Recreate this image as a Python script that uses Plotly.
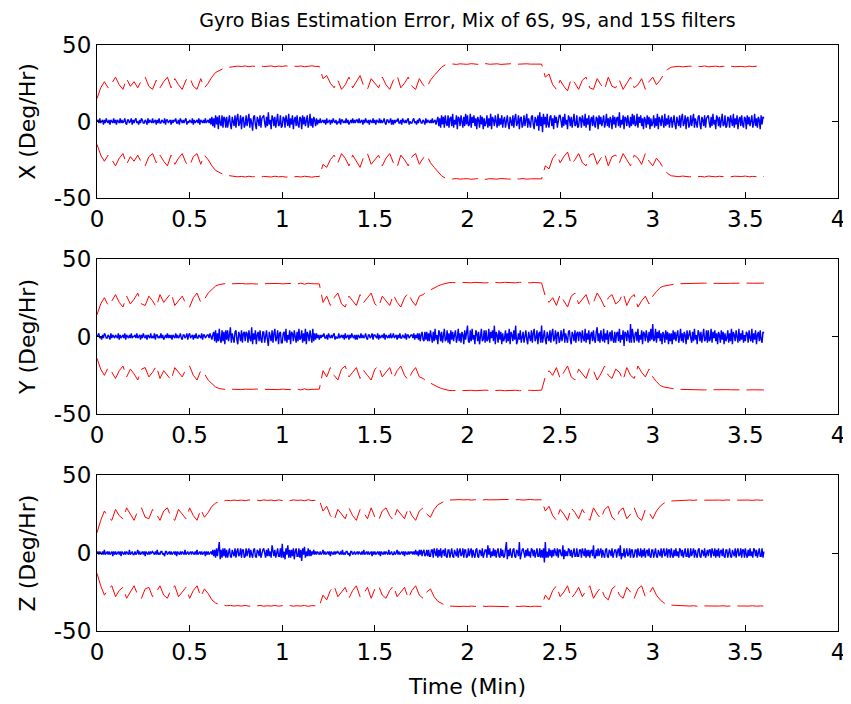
import numpy as np
import plotly.graph_objects as go
from plotly.subplots import make_subplots

# ---------------- data ----------------
# 3-sigma bound magnitude, sampled every 0.02 min (0 .. 3.60)
sig_x = [15, 22, 26, 22, 25, 29, 24, 21, 28, 23,
         26, 22, 27, 29, 23, 21, 27, 22, 26, 29,
         22, 28, 24, 21, 27, 29, 23, 21, 28, 22,
         25, 29, 32, 33.5, 34.5, 35.2, 35.6, 36, 36.2, 35.9,
         36.3, 35.8, 36.2, 36, 36.4, 35.9, 36.1, 36.3, 35.8, 36.2,
         36, 36.4, 35.9, 36.2, 36, 36.3, 35.8, 36.1, 36.4, 36,
         36, 28, 30, 25, 22, 27, 21, 24, 29, 22,
         26, 30, 23, 21, 28, 25, 22, 29, 24, 21,
         27, 30, 22, 25, 29, 23, 21, 28, 24, 22,
         27, 30, 33, 35.5, 37, 37.4, 37.6, 37.3, 37.7, 37.5,
         37.4, 37.8, 37.5, 37.3, 37.6, 37.8, 37.4, 37.5, 37.7, 37.3,
         37.6, 37.5, 37.8, 37.4, 37.6, 37.3, 37.7, 37.5, 37.6, 37.4,
         37.5, 29, 31, 24, 21, 27, 23, 20, 28, 25,
         21, 27, 29, 22, 21, 28, 24, 21, 29, 23,
         22, 27, 21, 25, 29, 22, 24, 28, 21, 26,
         29, 24, 27, 31, 34, 35.5, 35.8, 36.1, 35.7, 36,
         36.2, 35.8, 36.1, 35.9, 36.3, 35.7, 36, 36.2, 35.8, 36.1,
         35.9, 36.2, 35.8, 36.1, 36, 35.7, 36.2, 35.9, 36.1, 35.8,
         36]

sig_y = [14, 21, 25, 20, 23, 27, 22, 19, 26, 21,
         24, 28, 21, 20, 26, 23, 19, 27, 22, 25,
         28, 20, 23, 26, 21, 19, 25, 28, 22, 24,
         28, 30.5, 32.5, 33.5, 34, 34.2, 33.9, 34.1, 34, 34.2,
         33.9, 34.1, 34, 33.8, 34.2, 34, 34.1, 33.9, 34, 34.2,
         33.9, 34.1, 34, 34.3, 33.8, 34.4, 33.7, 34.3, 34, 34.1,
         33.9, 22, 26, 20, 25, 28, 21, 19, 26, 23,
         20, 27, 22, 25, 28, 21, 19, 26, 23, 20,
         27, 22, 19, 25, 28, 23, 20, 26, 27, 29,
         30, 31.5, 32.5, 33.5, 34.3, 34.7, 34.8, 34.6, 34.9, 34.7,
         34.8, 34.6, 34.9, 34.7, 34.8, 34.5, 34.9, 34.7, 34.8, 34.6,
         34.9, 34.7, 34.8, 34.6, 34.9, 34.7, 34.8, 34.6, 34.8, 34.7,
         34.5, 26, 22, 25, 20, 27, 23, 19, 26, 28,
         21, 24, 27, 20, 22, 28, 24, 19, 25, 27,
         21, 23, 28, 20, 25, 27, 19, 23, 26, 21,
         26, 29, 31.5, 32.5, 33, 33.5, 33.8, 34, 34.1, 34.2,
         34.3, 34.2, 34.3, 34.2, 34.4, 34.3, 34.2, 34.3, 34.4, 34.3,
         34.2, 34.3, 34.4, 34.3, 34.2, 34.3, 34.4, 34.3, 34.2, 34.3,
         34.4]

sig_z = [13, 21, 27, 23, 21, 28, 24, 22, 29, 25,
         21, 27, 29, 23, 22, 28, 25, 21, 27, 29,
         23, 21, 28, 25, 22, 29, 24, 21, 28, 23,
         26, 30, 32, 33, 33.5, 33.8, 33.6, 34, 33.7, 34,
         33.6, 34.1, 33.7, 34, 33.6, 34.1, 33.8, 34, 33.6, 34.1,
         33.7, 34, 33.6, 34.1, 33.8, 34, 33.6, 34.2, 33.7, 34,
         34, 27, 30, 24, 21, 28, 25, 22, 29, 24,
         21, 28, 26, 22, 29, 23, 21, 27, 29, 24,
         21, 28, 25, 22, 29, 24, 21, 27, 29, 25,
         23, 28, 31, 32.5, 33.5, 34, 34.2, 34, 34.3, 34.1,
         34.3, 34, 34.2, 34.4, 34, 34.3, 34.1, 34.2, 34, 34.3,
         34.1, 34.4, 34, 34.2, 34.3, 34, 34.2, 34.4, 34.1, 34.3,
         34.2, 27, 30, 24, 21, 28, 25, 21, 29, 26,
         22, 28, 24, 21, 29, 25, 22, 28, 30, 23,
         21, 27, 29, 22, 25, 29, 23, 21, 28, 26,
         22, 27, 30, 32, 33, 33.4, 33.6, 33.8, 34, 33.8,
         34, 33.8, 34.1, 33.9, 34, 33.8, 34.1, 33.9, 34, 33.8,
         34.1, 33.9, 34, 33.8, 34.1, 33.9, 34, 33.8, 34.1, 33.9,
         34]

# gyro bias estimation error (Deg/Hr), sampled every 0.005 min (0 .. 3.60)
err_x = [
    0, 1, -1, 2, -1, 0, 1, -2, 1, -1, 2, 0, -1, 1, -2, 1, 0, -1, 2, -1,
    1, -2, 1, 0, -1, 2, -1, 1, -1, 0, 2, -1, -2, 1, 1, -1, 0, 2, -2, 1,
    -1, 1, 2, -1, 0, -2, 1, -1, 2, 1, -1, -1, 1, 0, -2, 2, -1, 1, 0, -1,
    2, -1, 0, 1, -2, 1, -1, 2, -1, -1, 1, 0, -1, 2, -2, 1, 1, -1, 0, 1,
    -2, 1, -1, 1, 0, 2, -1, -1, 1, -2, 2, 0, -1, 1, -1, 1, 2, -2, 0, -1,
    1, 0, -1, 2, -2, 1, -1, 0, 1, -1, 2, -2, 1, 0, -1, 1, -1, 2, -1, 0,
    1, -1, 2, -2, 3, -3, 2, -4, 4, -2, 3, -5, 4, -1, -3, 4, -4, 3, 2, -4,
    3, -4, 1, 4, -2, -5, 3, 0, -3, 4, -4, 2, 5, -3, -1, 4, -5, 2, 3, -4,
    -2, 4, -3, 1, 5, -4, 2, -1, -6, 3, 4, -2, -5, 3, 1, -3, 4, -4, 2, 3,
    4, -1, -4, 3, -3, 6, -2, 1, -5, 4, 2, -3, 3, -4, 0, 5, -3, -2, 4, -4,
    -3, 3, 2, -4, 4, -1, -3, 5, -4, 2, -2, 4, -5, 1, 3, -3, 4, -2, -4, 3,
    2, -5, 4, -2, 3, -3, 1, 4, -4, -1, 5, -3, 2, -4, 3, 1, -3, 2, -2, 1,
    -1, 2, -1, 0, 1, -1, 1, -2, 2, -1, 0, 1, -2, 1, -1, 2, 0, -1, 1, -2,
    0, -1, 2, -2, 1, 1, -1, 0, -1, 2, -1, 1, -2, 0, 1, -1, 2, -1, 1, -1,
    1, 1, -1, 2, -1, 0, 1, -2, 1, -1, 2, 0, -1, 1, -2, 1, 0, -1, 2, -1,
    1, -2, 1, 0, -1, 2, -1, 1, -1, 0, 2, -1, -2, 1, 1, -1, 0, 2, -2, 1,
    -2, 1, -1, 1, 0, 2, -1, -1, 1, -2, 2, 0, -1, 1, -1, 1, 2, -2, 0, -1,
    -1, 1, 2, -1, 0, -2, 1, -1, 2, 1, -1, -1, 1, 0, -2, 2, -1, 1, 0, -1,
    1, -1, 2, -1, 0, 1, -2, 2, 3, -3, 2, -4, 4, -2, 3, -4, 4, -1, -3, 4,
    -4, 2, 3, -3, 5, -4, 1, -2, 4, -5, 3, 2, -3, 4, -1, -4, 3, -3, 5, -2,
    4, -3, -2, 5, -4, 3, -1, 4, -3, 2, -5, 3, 1, -4, 4, -2, 3, -5, 2, -3,
    -1, 4, -4, 2, -3, 5, -5, 3, 1, -3, 4, -2, -4, 5, -3, 2, -2, 4, -4, 1,
    3, -4, 1, 4, -2, -5, 3, 0, -3, 4, -4, 2, 5, -3, -1, 4, -5, 2, 3, -4,
    -2, 4, -3, 1, 5, -4, 2, -1, -4, 3, 4, -2, -5, 3, 1, -3, 4, -6, 6, -3,
    3, -7, 5, -2, 3, -4, 5, -2, -4, 3, 4, -3, 2, -5, 4, -1, 3, -4, 2, 4,
    4, -1, -4, 3, -3, 5, -2, 1, -5, 4, 2, -3, 3, -4, 0, 5, -3, -2, 4, -4,
    -3, 3, 2, -4, 4, -1, -3, 5, -4, 2, -2, 4, -6, 1, 3, -3, 4, -2, -4, 3,
    2, -5, 4, -2, 3, -3, 1, 4, -4, -1, 5, -3, 2, -4, 3, 1, -5, 4, -2, 3,
    -4, 2, 3, -3, 6, -4, 1, -2, 4, -5, 3, 2, -3, 4, -1, -4, 3, -3, 5, -2,
    4, -3, -2, 5, -4, 3, -1, 4, -3, 2, -5, 3, 1, -4, 4, -2, 3, -5, 2, -3,
    -1, 4, -4, 2, -3, 5, -5, 3, 1, -3, 4, -2, -4, 5, -3, 2, -2, 4, -4, 1,
    3, -4, 1, 4, -2, -5, 3, 0, -3, 4, -4, 2, 5, -3, -1, 4, -5, 2, 3, -4,
    -2, 4, -3, 1, 5, -4, 2, -1, -4, 3, 4, -2, -5, 3, 1, -3, 4, -4, 2, 3,
    4, -1, -4, 3, -3, 5, -2, 1, -5, 4, 2, -3, 3, -4, 0, 5, -3, -2, 4, -4,
    -3, 3, 2, -4, 4, -1, -3, 5, -4, 2, -2, 4, -5, 1, 3, -3, 4, -2, -4, 3,
    2, -5, 4, -2, 3, -3, 1, 4, -4, -1, 5, -3, 2, -4, 3, 1, -5, 4, -2, 3,
    2]

err_y = [
    0, 1, 2, -1, 0, -2, 1, -1, 2, 1, -1, -1, 1, 0, -2, 2, -1, 1, 0, -1,
    1, 0, -1, 2, -2, 1, -1, 0, 1, -1, 2, -2, 1, 0, -1, 1, -1, 2, -1, 0,
    0, 1, -1, 2, -1, 0, 1, -2, 1, -1, 2, 0, -1, 1, -2, 1, 0, -1, 2, -1,
    0, -1, 2, -2, 1, 1, -1, 0, -1, 2, -1, 1, -2, 0, 1, -1, 2, -1, 1, -1,
    1, -2, 1, 0, -1, 2, -1, 1, -1, 0, 2, -1, -2, 1, 1, -1, 0, 2, -2, 1,
    2, -1, 0, 1, -2, 1, -1, 2, -1, -1, 1, 0, -1, 2, -2, 1, 1, -1, 0, 1,
    1, -1, 2, -1, -2, 1, 3, -3, 4, -4, 2, -3, 5, -2, -4, 4, -3, 3, -5, 4,
    -2, 4, -3, 1, 6, -4, 2, -1, -4, 3, 4, -2, -5, 3, 1, -3, 4, -4, 2, 3,
    -3, 3, 2, -4, 4, -1, -3, 6, -5, 2, -2, 4, -5, 1, 3, -3, 4, -2, -4, 3,
    3, -4, 1, 4, -2, -6, 3, 0, -3, 4, -4, 2, 5, -3, -1, 4, -5, 2, 3, -4,
    -4, 2, 3, -3, 5, -4, 1, -2, 4, -5, 3, 2, -3, 4, -1, -4, 3, -3, 5, -2,
    -1, 4, -4, 2, -3, 5, -5, 3, 1, -3, 4, -2, -4, 5, -3, 2, -2, 2, -1, 1,
    -2, 1, -1, 1, 0, 2, -1, -1, 1, -2, 2, 0, -1, 1, -1, 1, 2, -2, 0, -1,
    -1, 2, -1, 0, 1, -1, 1, -2, 2, -1, 0, 1, -2, 1, -1, 2, 0, -1, 1, -2,
    1, -2, 1, 0, -1, 2, -1, 1, -1, 0, 2, -1, -2, 1, 1, -1, 0, 2, -2, 1,
    1, 0, -1, 2, -2, 1, -1, 0, 1, -1, 2, -2, 1, 0, -1, 1, -1, 2, -1, 0,
    2, -1, 0, 1, -2, 1, -1, 2, -1, -1, 1, 0, -1, 2, -2, 1, 1, -1, 0, 1,
    1, -1, 2, -2, 1, -1, 2, -2, 2, -3, 1, 3, -2, -3, 3, -2, 3, -3, 2, -3,
    4, -1, -4, 3, -3, 5, -2, 1, -5, 4, 2, -3, 3, -4, 0, 5, -3, -2, 4, -4,
    2, -5, 4, -2, 3, -3, 1, 4, -4, -1, 5, -3, 2, -4, 3, 1, -5, 4, -2, 3,
    7, -3, -4, 4, -3, 5, -2, 1, -5, 4, 2, -3, 3, -5, 0, 5, -3, -2, 4, -4,
    4, -3, -2, 5, -4, 3, -1, 4, -3, 7, -5, 3, 1, -4, 4, -2, 3, -5, 2, -3,
    -1, 4, -4, 2, -3, 5, -5, 3, 1, -3, 4, -2, 7, -5, -3, 2, -2, 4, -4, 1,
    3, -4, 1, 4, -2, -5, 3, 0, -3, 4, -4, 2, 5, -3, -1, 4, -5, 2, 3, -4,
    7, -4, 1, 4, -2, -5, 3, 0, -3, 4, -4, 2, 5, -3, -1, 4, -5, 2, 3, -4,
    -2, 4, -3, 1, 5, -4, 2, -1, -4, 3, 4, -2, -5, 3, 1, -3, 4, -4, 2, 3,
    -3, 3, 2, -4, 4, -1, -3, 5, -4, 2, -2, 4, -5, 1, 3, -3, 4, -2, -4, 3,
    6, -3, 2, -4, 4, -1, -3, 5, -4, 2, -2, 4, -5, 1, 3, -3, 4, -2, -4, 3,
    -4, 2, 3, -3, 5, -4, 1, -2, 4, -6, 3, 2, -3, 4, -1, -4, 8, -4, 5, -2,
    -4, 2, 3, -3, 5, -4, 1, -2, 4, -5, 3, 2, -3, 4, -1, -4, 3, -3, 5, -2,
    8, -3, -2, 5, -4, 3, -1, 4, -3, 2, -5, 3, 1, -4, 4, -2, 3, -5, 2, -3,
    2, -5, 4, -2, 3, -3, 1, 4, -4, -1, 5, -3, 2, -4, 3, 1, -5, 4, -2, 3,
    4, -1, -4, 3, -3, 5, -2, 1, -5, 4, 2, -3, 3, -4, 0, 5, -3, -2, 4, -4,
    4, -3, -2, 5, -4, 3, -1, 4, -3, 2, -5, 3, 1, -4, 4, -2, 3, -5, 2, -3,
    -1, 4, -4, 2, -3, 5, -5, 3, 1, -3, 4, -2, -4, 5, -3, 2, -2, 4, -4, 1,
    -3, 3, 2, -4, 4, -1, -3, 5, -4, 2, -2, 4, -5, 1, 3, -3, 4, -2, -4, 3,
    2]

err_z = [
    0, 1, -1, 1, 0, -1, 1, -1, 2, -1, 0, 1, -1, 1, -1, 0, 1, -2, 1, -1,
    1, -1, 0, 1, -1, 1, -2, 1, 0, -1, 1, -1, 1, 0, -1, 2, -1, 0, 1, -1,
    -1, 1, -1, 0, 2, -1, 1, -1, 0, 1, -1, 1, -2, 1, 0, -1, 1, -1, 1, 0,
    1, 0, -1, 1, -1, 2, -1, 0, -1, 1, 1, -1, 0, -2, 1, 1, -1, 0, 1, -1,
    1, -1, 0, 1, -1, 1, -2, 1, 0, -1, 1, -1, 1, 0, -1, 2, -1, 0, 1, -1,
    0, 1, -1, 1, 0, -1, 1, -1, 2, -1, 0, 1, -1, 1, -1, 0, 1, -2, 1, -1,
    1, -1, 0, 1, -1, 2, -2, 2, -3, 3, -2, 3, 7, -4, 2, -3, 3, -2, 3, -3,
    2, -3, 1, 3, -2, -3, 2, 0, -2, 3, -3, 1, 3, -2, -1, 3, -3, 2, 2, -3,
    -2, 3, -2, 1, 3, -3, 2, -1, -3, 2, 3, -2, -3, 2, 1, -2, 3, -3, 1, 2,
    3, -1, -3, 2, -2, 3, -2, 1, -3, 5, 2, -2, 2, -3, 0, 3, -2, -2, 3, -3,
    6, -3, 1, -4, 3, -1, 5, -3, 2, -3, 2, -2, 3, -4, 1, 3, -2, -2, 3, -3,
    2, -5, 3, -1, 4, -3, 1, -2, 3, -2, 2, -2, 1, -1, 2, -1, 1, -1, 1, 0,
    -1, 1, -1, 0, 2, -1, 1, -1, 0, 1, -1, 1, -2, 1, 0, -1, 1, -1, 1, 0,
    1, 0, -1, 1, -1, 2, -1, 0, -1, 1, 1, -1, 0, -2, 1, 1, -1, 0, 1, -1,
    0, 1, -1, 1, 0, -1, 1, -1, 2, -1, 0, 1, -1, 1, -1, 0, 1, -2, 1, -1,
    1, -1, 0, 1, -1, 1, -2, 1, 0, -1, 1, -1, 1, 0, -1, 2, -1, 0, 1, -1,
    -1, 1, -1, 0, 2, -1, 1, -1, 0, 1, -1, 1, -2, 1, 0, -1, 1, -1, 1, 0,
    1, -1, 1, -1, 2, -1, 1, -2, 2, -1, 2, -2, 1, 2, -2, -1, 2, -2, 2, -2,
    -2, 2, 2, -3, 3, -1, -2, 3, -3, 2, -2, 3, -3, 1, 2, -2, 3, -2, -3, 2,
    2, -3, 1, 3, -2, -3, 2, 0, -2, 3, -3, 1, 3, -2, -1, 3, -3, 2, 2, -3,
    -2, 3, -2, 1, 3, -3, 2, -1, -3, 2, 3, -2, -3, 2, 1, -2, 3, -3, 1, 2,
    2, -3, 5, -1, 3, -3, 1, -2, 3, -2, 2, -3, 1, 3, -2, -3, 3, -2, 2, -3,
    -2, 3, 7, -4, 2, -2, 3, -1, -3, 2, 3, -2, -3, 2, 1, -2, 7, -4, 1, 2,
    3, -1, -3, 2, -2, 3, -2, 1, -3, 3, 2, -2, 2, -3, 0, 3, -2, -2, 3, -3,
    2, -3, 3, -6, 7, -3, 1, -3, 3, -2, 2, -3, 2, -2, 3, -1, -2, 3, -3, 2,
    2, -1, -2, 5, -4, 2, -2, 1, -2, 3, 2, -2, 2, -3, 0, 3, -2, -2, 3, -2,
    -2, 2, 2, -3, 3, -1, -2, 3, -3, 2, -2, 2, -3, 1, 2, -2, 5, -3, -3, 2,
    -2, 3, -2, 1, 3, -3, 2, -1, -3, 2, 3, -2, -3, 2, 1, -2, 3, -3, 1, 2,
    2, -3, 1, 3, -2, 5, -4, 0, -2, 3, -3, 1, 3, -2, -1, 3, -3, 2, 2, -3,
    -2, 2, 2, -3, 3, -1, -2, 3, -3, 2, -2, 3, -3, 1, 2, -2, 3, -2, -3, 2,
    2, -3, 1, 3, -2, -3, 2, 0, -2, 3, -3, 1, 3, -2, -1, 3, -3, 2, 2, -3,
    3, -1, -3, 2, -2, 3, -2, 1, -3, 3, 2, -2, 2, -3, 0, 3, -2, -2, 3, -3,
    -2, 3, -2, 1, 3, -3, 2, -1, -3, 2, 3, -2, -3, 2, 1, -2, 3, -3, 1, 2,
    -2, 2, 2, -3, 3, -1, -2, 3, -3, 2, -2, 3, -3, 1, 2, -2, 3, -2, -3, 2,
    2, -3, 1, 3, -2, -3, 2, 0, -2, 3, -3, 1, 3, -2, -1, 3, -3, 2, 2, -3,
    3, -1, -3, 2, -2, 3, -2, 1, -3, 3, 2, -2, 2, -3, 0, 3, -2, -2, 3, -3,
    1]

t_bound = np.round(np.arange(len(sig_x)) * 0.02, 3)
t_err = np.round(np.arange(len(err_x)) * 0.005, 3)

axis_names = ["X (Deg/Hr)", "Y (Deg/Hr)", "Z (Deg/Hr)"]
sigmas = [sig_x, sig_y, sig_z]
errors = [err_x, err_y, err_z]
x_ticks = [0, 0.5, 1, 1.5, 2, 2.5, 3, 3.5, 4]
x_ticktext = ["0", "0.5", "1", "1.5", "2", "2.5", "3", "3.5", "4"]
y_ticks = [-50, 0, 50]
y_ticktext = ["-50", "0", "50"]

# ---------------- figure ----------------
FONT = "DejaVu Sans, Liberation Sans, Arial, sans-serif"
TICK_SIZE = 23
LABEL_SIZE = 22
fig = make_subplots(rows=3, cols=1)

for r, (sig, err) in enumerate(zip(sigmas, errors), start=1):
    s = np.array(sig, dtype=float)
    fig.add_trace(go.Scatter(x=t_bound, y=s, mode="lines",
                             line=dict(color="#ff0000", width=1, dash="26px,7px"),
                             showlegend=False, hoverinfo="skip"), row=r, col=1)
    fig.add_trace(go.Scatter(x=t_bound, y=-s, mode="lines",
                             line=dict(color="#ff0000", width=1, dash="26px,7px"),
                             showlegend=False, hoverinfo="skip"), row=r, col=1)
    fig.add_trace(go.Scatter(x=t_err, y=err, mode="lines",
                             line=dict(color="#0000ff", width=1.4),
                             showlegend=False, hoverinfo="skip"), row=r, col=1)

domains = [[0.739, 1.0], [0.370, 0.635], [0.0, 0.266]]
for r in range(1, 4):
    xa = "xaxis" if r == 1 else f"xaxis{r}"
    ya = "yaxis" if r == 1 else f"yaxis{r}"
    fig.layout[xa].update(
        range=[0, 4], tickvals=x_ticks, ticktext=x_ticktext,
        ticks="inside", ticklen=6, tickwidth=1, tickcolor="black",
        showline=True, linecolor="black", linewidth=1, mirror="ticks",
        showgrid=False, zeroline=False,
        tickfont=dict(family=FONT, size=TICK_SIZE, color="black"),
        domain=[0, 1],
    )
    fig.layout[ya].update(
        range=[-50, 50], tickvals=y_ticks, ticktext=y_ticktext,
        ticks="inside", ticklen=6, tickwidth=1, tickcolor="black",
        showline=True, linecolor="black", linewidth=1, mirror="ticks",
        showgrid=False, zeroline=False,
        tickfont=dict(family=FONT, size=TICK_SIZE, color="black"),
        domain=domains[r - 1],
        title=dict(text=axis_names[r - 1],
                   font=dict(family=FONT, size=LABEL_SIZE, color="black"),
                   standoff=12),
    )

fig.layout["xaxis3"].title = dict(text="Time (Min)",
                                  font=dict(family=FONT, size=LABEL_SIZE, color="black"),
                                  standoff=15)

# the page body has an 8px margin, so the figure is sized to fit the window
fig.update_layout(
    width=843, height=696,
    margin=dict(l=89, r=13, t=37, b=73, autoexpand=False),
    paper_bgcolor="white", plot_bgcolor="white",
    title=dict(text="Gyro Bias Estimation Error, Mix of 6S, 9S, and 15S filters",
               x=0.5, xref="paper", xanchor="center",
               y=1 - 12 / 696, yref="container", yanchor="middle",
               font=dict(family=FONT, size=19, color="black")),
    showlegend=False,
)

fig.write_html("out.html")
